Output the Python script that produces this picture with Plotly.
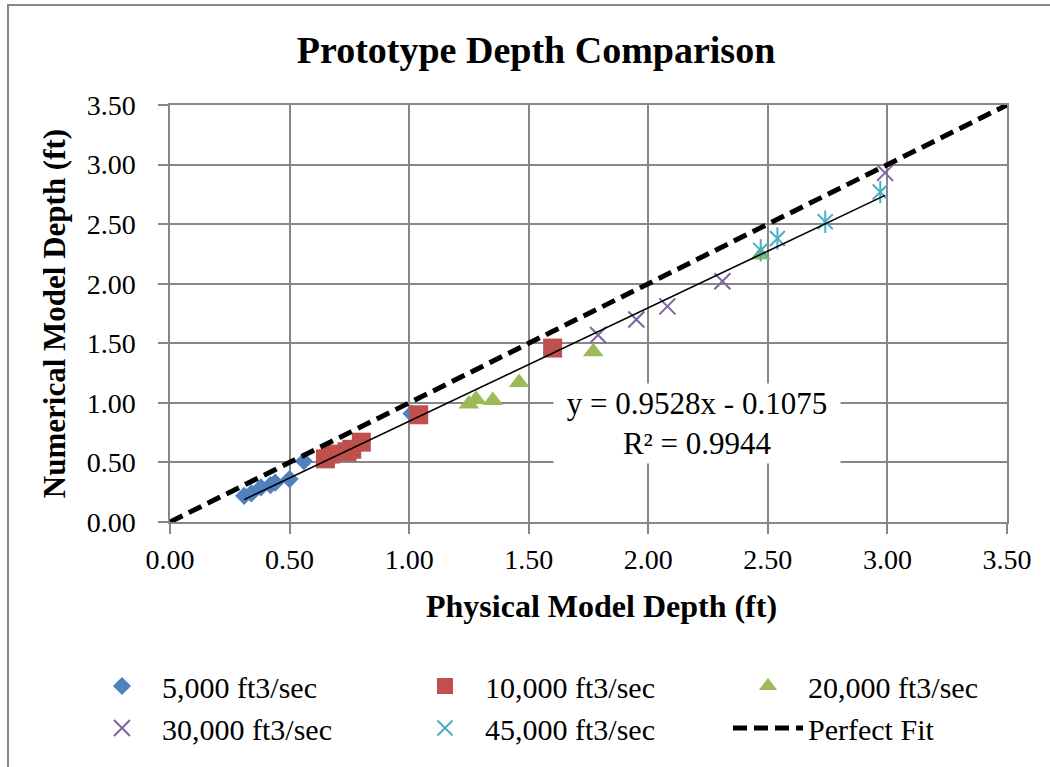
import plotly.graph_objects as go

# ---------------- data ----------------
x_5k = [0.31, 0.34, 0.38, 0.42, 0.44, 0.50, 0.56, 1.01]
y_5k = [0.22, 0.24, 0.29, 0.31, 0.33, 0.36, 0.51, 0.91]

x_10k = [0.65, 0.67, 0.74, 0.76, 0.80, 1.04, 1.60]
y_10k = [0.53, 0.57, 0.59, 0.61, 0.67, 0.90, 1.46]

x_20k = [1.25, 1.28, 1.35, 1.46, 1.77, 2.47]
y_20k = [0.99, 1.03, 1.02, 1.17, 1.43, 2.24]

x_30k = [1.79, 1.95, 2.08, 2.31, 2.99]
y_30k = [1.57, 1.70, 1.81, 2.02, 2.93]

x_45k = [2.47, 2.54, 2.74, 2.97]
y_45k = [2.28, 2.38, 2.52, 2.77]

perfect_x = [0.0, 3.5]
perfect_y = [0.0, 3.5]

trend_slope = 0.9528
trend_intercept = -0.1075
trend_r2 = 0.9944

tick_vals = [0.0, 0.5, 1.0, 1.5, 2.0, 2.5, 3.0, 3.5]

series_names = ["5,000 ft3/sec", "10,000 ft3/sec", "20,000 ft3/sec",
                "30,000 ft3/sec", "45,000 ft3/sec", "Perfect Fit"]

# ---------------- styling ----------------
FONT = "Liberation Serif, Times New Roman, serif"
GRID = "#878787"
C_BLUE = "#4F81BD"
C_RED = "#C0504D"
C_GREEN = "#9BBB59"
C_PURPLE = "#8064A2"
C_TEAL = "#4BACC6"

COL_W = 238      # legend entry width (columns 1-2)
LAST_W = 190     # legend entry width (column 3)

fig = go.Figure()

fig.add_trace(go.Scatter(
    x=x_5k, y=y_5k, mode="markers", name=series_names[0],
    marker=dict(symbol="diamond", size=14, color=C_BLUE, line=dict(width=0)),
    legendwidth=COL_W))
fig.add_trace(go.Scatter(
    x=x_10k, y=y_10k, mode="markers", name=series_names[1],
    marker=dict(symbol="square", size=19, color=C_RED, line=dict(width=0)),
    legendwidth=COL_W))
fig.add_trace(go.Scatter(
    x=x_20k, y=y_20k, mode="markers", name=series_names[2],
    marker=dict(symbol="triangle-up", size=18, color=C_GREEN, line=dict(width=0)),
    legendwidth=LAST_W))
fig.add_trace(go.Scatter(
    x=x_30k, y=y_30k, mode="markers", name=series_names[3],
    marker=dict(symbol="x-thin-open", size=16, color=C_PURPLE,
                line=dict(width=2, color=C_PURPLE)),
    legendwidth=COL_W))
fig.add_trace(go.Scatter(
    x=x_45k, y=y_45k, mode="markers", name=series_names[4],
    legendgroup="45k",
    marker=dict(symbol="x-thin-open", size=15, color=C_TEAL,
                line=dict(width=2, color=C_TEAL)),
    legendwidth=COL_W))
fig.add_trace(go.Scatter(
    x=x_45k, y=y_45k, mode="markers", name=series_names[4],
    legendgroup="45k", showlegend=False, hoverinfo="skip",
    marker=dict(symbol="line-ns-open", size=16, color=C_TEAL,
                line=dict(width=2, color=C_TEAL))))

# Perfect fit line
fig.add_trace(go.Scatter(
    x=perfect_x, y=perfect_y, mode="lines", name=series_names[5],
    line=dict(color="black", width=5, dash="14px,7px"),
    legendwidth=LAST_W))

# Linear trendline over the range of the data
all_x = x_5k + x_10k + x_20k + x_30k + x_45k
tx = [min(all_x), max(all_x)]
ty = [trend_slope * v + trend_intercept for v in tx]
fig.add_trace(go.Scatter(
    x=tx, y=ty, mode="lines", showlegend=False, hoverinfo="skip",
    line=dict(color="black", width=1.6)))

axis_common = dict(
    range=[0, 3.5], tickvals=tick_vals, tickformat=".2f",
    showgrid=True, gridcolor=GRID, gridwidth=1.5,
    showline=True, linecolor=GRID, linewidth=1.5, mirror=True,
    ticks="outside", ticklen=10, tickcolor=GRID, tickwidth=1.5,
    zeroline=False,
    tickfont=dict(family=FONT, size=28, color="black"),
)

fig.update_layout(
    width=1050, height=767,
    margin=dict(l=170, r=43, t=105, b=245, autoexpand=False),
    paper_bgcolor="white", plot_bgcolor="white",
    font=dict(family=FONT, color="black"),
    title=dict(text="<b>Prototype Depth Comparison</b>",
               font=dict(family=FONT, size=38, color="black"),
               x=0.5105, xref="container", xanchor="center",
               y=0.935, yref="container", yanchor="middle"),
    xaxis=dict(**axis_common),
    yaxis=dict(**axis_common,
               title=dict(text="<b>Numerical Model Depth (ft)</b>",
                          font=dict(family=FONT, size=31, color="black"),
                          standoff=12)),
    legend=dict(orientation="h", x=(82 - 170) / 837, xanchor="left",
                y=(522 - 660) / 417, yanchor="top",
                itemwidth=70,
                entrywidth=COL_W, entrywidthmode="pixels",
                bgcolor="rgba(0,0,0,0)",
                font=dict(family=FONT, size=30, color="black"),
                traceorder="normal"),
    showlegend=True,
)

fig.update_xaxes(ticklabelstandoff=2)
fig.update_yaxes(ticklabelstandoff=17)

# X axis title (placed as in the reference, slightly right of centre)
fig.add_annotation(
    x=(601 - 170) / 837, y=(522 - 606) / 417, xref="paper", yref="paper",
    xanchor="center", yanchor="middle", showarrow=False,
    text="<b>Physical Model Depth (ft)</b>",
    font=dict(family=FONT, size=32, color="black"))

# Trendline equation label
fig.add_annotation(
    x=2.205, y=0.827, xref="x", yref="y",
    text=f"y = {trend_slope}x - {abs(trend_intercept)}<br>R² = {trend_r2}",
    showarrow=False, font=dict(family=FONT, size=31, color="black"),
    bgcolor="white", width=284, height=77, align="center", valign="middle",
    borderpad=1)

# Outer chart-area border
fig.add_shape(type="rect", xref="paper", yref="paper",
              x0=(8 - 170) / 837, x1=(1060 - 170) / 837,
              y0=(522 - 790) / 417, y1=(522 - 5) / 417,
              line=dict(color=GRID, width=2), fillcolor="rgba(0,0,0,0)",
              layer="below")

fig.write_html("out.html")
